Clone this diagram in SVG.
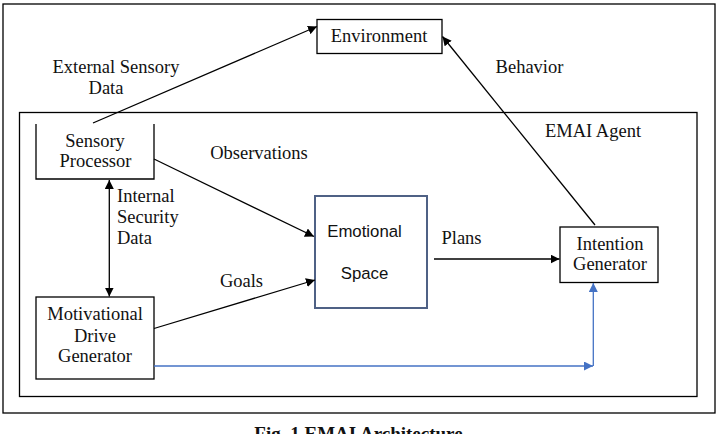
<svg xmlns="http://www.w3.org/2000/svg" width="721" height="434" viewBox="0 0 721 434">
<style>
.frame{fill:none;stroke:#000;stroke-width:1.3}
.box{fill:#fff;stroke:#000;stroke-width:1.3}
.es{fill:#fff;stroke:#4f6185;stroke-width:2}
.t{font-family:"Liberation Serif","Times New Roman",serif;font-size:18.5px;fill:#111;text-anchor:middle}
.s{font-family:"Liberation Sans",Arial,sans-serif;font-size:16.8px;fill:#111;text-anchor:middle}
.cap{font-family:"Liberation Serif","Times New Roman",serif;font-size:19px;font-weight:bold;fill:#111;text-anchor:middle}
.c{fill:none;stroke:#000;stroke-width:1.3}
.b{fill:none;stroke:#4472c4;stroke-width:1.3}
</style>
<defs>
<marker id="ah" viewBox="0 0 10 10" refX="10" refY="5" markerWidth="9" markerHeight="9" markerUnits="userSpaceOnUse" orient="auto-start-reverse"><path d="M0,0 L10,5 L0,10 z" fill="#000"/></marker>
<marker id="ahb" viewBox="0 0 10 10" refX="10" refY="5" markerWidth="9" markerHeight="9" markerUnits="userSpaceOnUse" orient="auto"><path d="M0,0 L10,5 L0,10 z" fill="#4472c4"/></marker>
</defs>
<rect id="outer" class="frame" x="3" y="4" width="712" height="409"/>
<g id="agent">
<rect class="frame" x="19.5" y="112.5" width="677.5" height="284"/>
<text class="t" x="593" y="137">EMAI Agent</text>
</g>
<g id="environment">
<rect class="box" x="317" y="19.5" width="125" height="34"/>
<text class="t" x="379" y="42">Environment</text>
</g>
<g id="sensory">
<path class="c" d="M36,124 V179 H154 V124" style="fill:#fff"/>
<text class="t" x="95" y="146.5">Sensory</text>
<text class="t" x="95.5" y="166.5">Processor</text>
</g>
<g id="motivational">
<rect class="box" x="36" y="297" width="118" height="82"/>
<text class="t" x="95" y="320">Motivational</text>
<text class="t" x="95" y="341.5">Drive</text>
<text class="t" x="95" y="362">Generator</text>
</g>
<g id="emotional">
<rect class="es" x="315" y="196" width="112" height="112"/>
<text class="s" x="364.5" y="237">Emotional</text>
<text class="s" x="364.5" y="278.5">Space</text>
</g>
<g id="intention">
<rect class="box" x="560" y="227" width="98" height="55.5"/>
<text class="t" x="610" y="250">Intention</text>
<text class="t" x="610" y="269.5">Generator</text>
</g>
<g id="connectors">
<line class="c" x1="93" y1="123" x2="317" y2="26.5" marker-end="url(#ah)"/>
<line class="c" x1="154" y1="159" x2="314" y2="236.5" marker-end="url(#ah)"/>
<line class="c" x1="109.3" y1="180" x2="109.3" y2="296.5" marker-start="url(#ah)" marker-end="url(#ah)"/>
<line class="c" x1="154" y1="328.5" x2="315" y2="280" marker-end="url(#ah)"/>
<line class="c" x1="434" y1="259" x2="559.5" y2="259" marker-end="url(#ah)"/>
<line class="c" x1="595" y1="225" x2="442.5" y2="36.5" marker-end="url(#ah)"/>
<line class="b" x1="154" y1="366" x2="593" y2="366" marker-end="url(#ahb)"/>
<line class="b" x1="593.3" y1="366" x2="593.3" y2="283" marker-end="url(#ahb)"/>
<g id="labels">
<text class="t" x="116" y="73">External Sensory</text>
<text class="t" x="106" y="94">Data</text>
<text class="t" x="259" y="158.5">Observations</text>
<text class="t" x="117" y="201.5" style="text-anchor:start">Internal</text>
<text class="t" x="117" y="223" style="text-anchor:start">Security</text>
<text class="t" x="117" y="244" style="text-anchor:start">Data</text>
<text class="t" x="241.5" y="287">Goals</text>
<text class="t" x="461.5" y="244">Plans</text>
<text class="t" x="529.5" y="72.5">Behavior</text>
</g>
</g>
<text class="cap" x="358.5" y="440">Fig. 1 EMAI Architecture</text>
</svg>
